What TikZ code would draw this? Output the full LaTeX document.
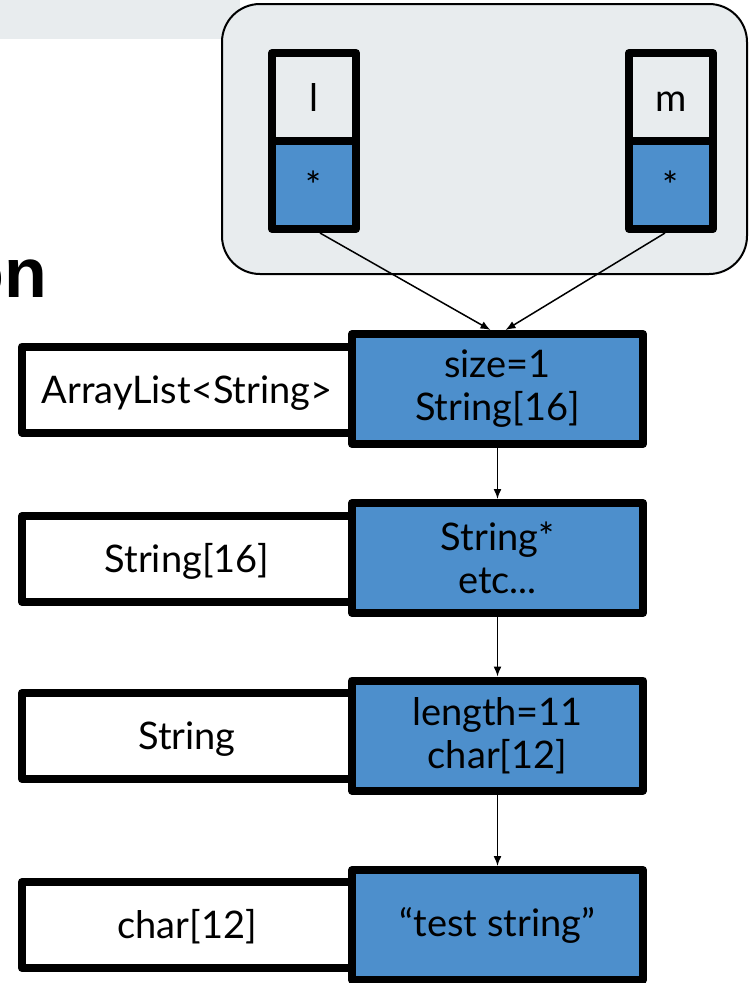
\documentclass[tikz,border=0pt]{standalone}
\usepackage{fontspec}
\setmainfont{Lato}
\newfontfamily\headfont{Liberation Sans}
\usetikzlibrary{arrows.meta,calc}
\definecolor{cellblue}{HTML}{4D8FCC}
\definecolor{panelgray}{HTML}{E8ECEE}
\begin{document}
\begin{tikzpicture}[x=1pt,y=-1pt,
  thickbox/.style={draw=black,line width=8pt,line join=round,inner sep=0pt,
    font=\fontsize{38}{43}\selectfont,align=center},
  typebox/.style={thickbox,fill=white,minimum width=330pt,minimum height=86pt,
    text height=27pt,text depth=0pt},
  valbox/.style={thickbox,fill=cellblue,minimum width=291pt,minimum height=110pt},
  namecell/.style={thickbox,fill=panelgray,minimum width=84pt,minimum height=88pt,
    text height=28pt,text depth=0pt},
  ptrcell/.style={namecell,fill=cellblue},
  link/.style={draw=black,line width=1.5pt,-{Latex[length=10pt,width=8pt]}}
]
\useasboundingbox (0,0) rectangle (750,983);
\fill[white] (0,0) rectangle (750,983);
% header band
\fill[panelgray] (0,0) rectangle (240,39);
\node[font=\headfont\bfseries\fontsize{70}{70}\selectfont,anchor=base east,inner sep=0pt] (title) at (47,297) {on};
% stack frame panel
\node[draw=black,line width=2pt,fill=panelgray,rounded corners=38pt,
  minimum width=525pt,minimum height=270pt,inner sep=0pt] (panel) at (484.5,139) {};
\node[namecell] (ln) at (314,97) {l};
\node[ptrcell] (lp) at (314,185) {*};
\node[namecell] (mn) at (671,97) {m};
\node[ptrcell] (mp) at (671,185) {*};
% rows
\node[typebox] (t1) at (187,389.5) {ArrayList<String>};
\node[valbox] (v1) at (497.5,389) {size=1\\String[16]};
\node[typebox] (t2) at (187,559) {String[16]};
\node[valbox] (v2) at (497.5,558) {String*\\etc...};
\node[typebox] (t3) at (187,736) {String};
\node[valbox] (v3) at (497.5,735.5) {length=11\\char[12]};
\node[typebox] (t4) at (187,925) {char[12]};
\node[valbox] (v4) at (497.5,925) {“test string”};
% connectors
\draw[link] ($(lp.south)+(6,0)$) -- ($(v1.north)+(-7,0)$);
\draw[link] ($(mp.south)+(-6,0)$) -- ($(v1.north)+(8,0)$);
\draw[link] (v1) -- (v2);
\draw[link] (v2) -- (v3);
\draw[link] (v3) -- (v4);
\end{tikzpicture}
\end{document}
